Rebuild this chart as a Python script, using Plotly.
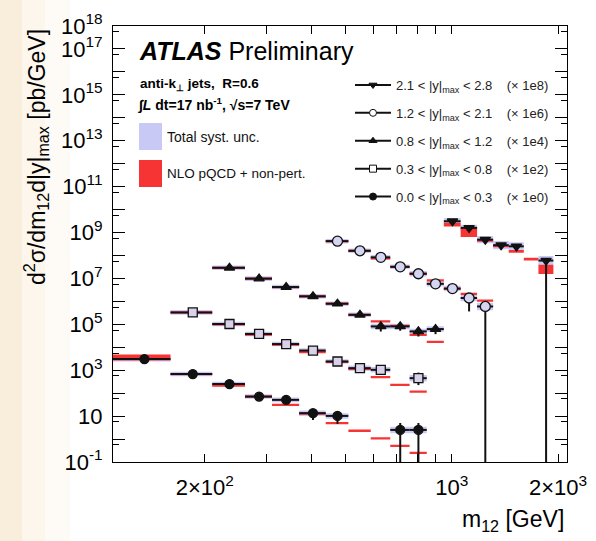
import plotly.graph_objects as go

# ---------------- data ----------------
edges = [110, 160, 210, 260, 310, 370, 440, 510, 590, 670, 760, 850, 950,
         1060, 1180, 1310, 1450, 1600, 1760, 1940, 2120]

series_names = ["0.0 < |y|<sub>max</sub> < 0.3", "0.3 < |y|<sub>max</sub> < 0.8",
                "0.8 < |y|<sub>max</sub> < 1.2", "1.2 < |y|<sub>max</sub> < 2.1",
                "2.1 < |y|<sub>max</sub> < 2.8"]
series_scale = ["(× 1e0)", "(× 1e2)", "(× 1e4)", "(× 1e6)", "(× 1e8)"]
series_first_bin = [0, 1, 2, 6, 12]

# measured (already multiplied by the scale factor)
data_y0 = [3050, 680, 250, 71, 51, 13.4, 10.2, None, None, 2.5, 2.5]
data_y1 = [3.3e5, 1.03e5, 3.8e4, 1.38e4, 7.2e3, 2.4e3, 1.23e3, 1.04e3, None, 450]
data_y2 = [2.9e7, 9.8e6, 4.2e6, 1.66e6, 7.9e5, 2.6e5, 8.1e4, 8.1e4, 4.9e4, 6.2e4]
data_y3 = [4.2e8, 1.6e8, 8.3e7, 3.2e7, 1.6e7, 5.8e6, 3.6e6, 1.4e6, 6.0e5]
data_y4 = [3.1e9, 1.6e9, 4.9e8, 2.8e8, 2.5e8, None, 6.0e7]

# statistical uncertainty (fraction of value)
stat_dn0 = [0.03, 0.03, 0.04, 0.05, 0.08, 0.5, 0.55, None, None, 1.0, 1.0]
stat_up0 = [0.03, 0.03, 0.04, 0.05, 0.08, 0.5, 0.55, None, None, 1.0, 1.0]
stat_dn1 = [0.02, 0.03, 0.03, 0.04, 0.05, 0.08, 0.12, 0.15, None, 0.5]
stat_up1 = [0.02, 0.03, 0.03, 0.04, 0.05, 0.08, 0.12, 0.15, None, 0.75]
stat_dn2 = [0.03, 0.04, 0.05, 0.06, 0.1, 0.2, 0.4, 0.35, 0.4, 0.4]
stat_up2 = [0.03, 0.04, 0.05, 0.06, 0.1, 0.2, 0.4, 0.35, 0.4, 0.4]
stat_dn3 = [0.02, 0.02, 0.03, 0.04, 0.06, 0.1, 0.15, 0.74, 1.0]
stat_up3 = [0.02, 0.02, 0.03, 0.04, 0.06, 0.1, 0.15, 0.3, 0.35]
stat_dn4 = [0.1, 0.15, 0.3, 0.35, 0.35, None, 1.0]
stat_up4 = [0.1, 0.15, 0.2, 0.25, 0.25, None, 0.3]

# total systematic uncertainty (half-height, decades)
syst0 = [0.1, 0.1, 0.1, 0.1, 0.1, 0.12, 0.12, None, None, 0.14, 0.14]
syst1 = [0.1, 0.1, 0.1, 0.1, 0.1, 0.1, 0.12, 0.12, None, 0.14]
syst2 = [0.1, 0.1, 0.1, 0.1, 0.1, 0.1, 0.12, 0.12, 0.12, 0.12]
syst3 = [0.1, 0.1, 0.1, 0.1, 0.12, 0.12, 0.12, 0.14, 0.16]
syst4 = [0.14, 0.14, 0.16, 0.18, 0.18, None, 0.2]

# NLO pQCD + non-pert. prediction (scaled) and its half-height (decades)
theo_y0 = [3600, 680, 220, 71, 31, 13, 4.9, 2.3, 1.08, 0.5, 0.25]
theo_u0 = [0.13, 0.05, 0.06, 0.05, 0.05, 0.05, 0.05, 0.05, 0.05, 0.05, 0.05]
theo_y1 = [3.3e5, 1.0e5, 3.6e4, 1.3e4, 6.2e3, 2.3e3, 1.15e3, 500, 230, 117]
theo_u1 = [0.05] * 10
theo_y2 = [2.9e7, 9.8e6, 4.2e6, 1.66e6, 7.9e5, 2.6e5, 1.35e5, 8.5e4, 3.5e4, 1.7e4]
theo_u2 = [0.05] * 10
theo_y3 = [4.2e8, 1.6e8, 7.5e7, 3.2e7, 1.6e7, 8.3e6, 3.6e6, 2.1e6, 1.07e6]
theo_u3 = [0.05] * 9
theo_y4 = [2.2e9, 1.0e9, 4.5e8, 2.6e8, 1.5e8, 7.0e7, 2.5e7]
theo_u4 = [0.08, 0.2, 0.06, 0.06, 0.06, 0.06, 0.2]

y_tick_exp = list(range(-1, 19))
y_tick_labels = {18: "10<sup>18</sup>", 17: "10<sup>17</sup>", 15: "10<sup>15</sup>",
                 13: "10<sup>13</sup>", 11: "10<sup>11</sup>", 9: "10<sup>9</sup>",
                 7: "10<sup>7</sup>", 5: "10<sup>5</sup>", 3: "10<sup>3</sup>",
                 1: "10", -1: "10<sup>-1</sup>"}
x_tick_vals = [200, 300, 400, 500, 600, 700, 800, 900, 1000, 2000]
x_tick_labels = {200: "2×10<sup>2</sup>", 1000: "10<sup>3</sup>", 2000: "2×10<sup>3</sup>"}

all_data = [data_y0, data_y1, data_y2, data_y3, data_y4]
all_dn = [stat_dn0, stat_dn1, stat_dn2, stat_dn3, stat_dn4]
all_up = [stat_up0, stat_up1, stat_up2, stat_up3, stat_up4]
all_syst = [syst0, syst1, syst2, syst3, syst4]
all_theo = [theo_y0, theo_y1, theo_y2, theo_y3, theo_y4]
all_theo_u = [theo_u0, theo_u1, theo_u2, theo_u3, theo_u4]

# ---------------- styles ----------------
FONT = "Liberation Sans, Arial, Helvetica, sans-serif"
RED = "#f73434"
LAV = "#c9c9f6"
BLK = "#111111"
symbols = ["circle", "square", "triangle-up", "circle", "triangle-down"]
m_sizes = [9, 9, 9, 10, 9]
m_fill = [BLK, "#d9d0ea", BLK, "#d4d5f2", BLK]
leg_fill = [BLK, "white", BLK, "white", BLK]


def boxes(first, vals, half):
    xs, ys = [], []
    for i, (v, h) in enumerate(zip(vals, half)):
        if v is None:
            continue
        lo, hi = edges[first + i], edges[first + i + 1]
        ylo, yhi = v * 10 ** (-h), v * 10 ** h
        xs += [lo, hi, hi, lo, lo, None]
        ys += [ylo, ylo, yhi, yhi, ylo, None]
    return xs, ys


fig = go.Figure()

# systematic bands
for k in range(5):
    xs, ys = boxes(series_first_bin[k], all_data[k], all_syst[k])
    fig.add_trace(go.Scatter(x=xs, y=ys, mode="lines", fill="toself", fillcolor=LAV,
                             line=dict(width=0), showlegend=False, hoverinfo="skip"))
# theory
for k in range(5):
    xs, ys = boxes(series_first_bin[k], all_theo[k], all_theo_u[k])
    fig.add_trace(go.Scatter(x=xs, y=ys, mode="lines", fill="toself", fillcolor=RED,
                             line=dict(width=0), showlegend=False, hoverinfo="skip"))
# data
for k in range(5):
    f = series_first_bin[k]
    cx, cy, ex_p, ex_m, ey_p, ey_m = [], [], [], [], [], []
    for i, v in enumerate(all_data[k]):
        if v is None:
            continue
        lo, hi = edges[f + i], edges[f + i + 1]
        c = 0.5 * (lo + hi)
        cx.append(c); cy.append(v)
        ex_p.append(hi - c); ex_m.append(c - lo)
        ey_p.append(v * all_up[k][i]); ey_m.append(v * all_dn[k][i])
    fig.add_trace(go.Scatter(
        x=cx, y=cy, mode="markers", showlegend=False,
        marker=dict(symbol=symbols[k], size=m_sizes[k], color=m_fill[k],
                    line=dict(color=BLK, width=1.3)),
        error_x=dict(type="data", symmetric=False, array=ex_p, arrayminus=ex_m,
                     thickness=2, width=0, color=BLK),
        error_y=dict(type="data", symmetric=False, array=ey_p, arrayminus=ey_m,
                     thickness=2, width=0, color=BLK)))

# legend entries (top to bottom: highest rapidity first)
for k in [4, 3, 2, 1, 0]:
    fig.add_trace(go.Scatter(
        x=[None], y=[None], mode="lines+markers", legendgroup=f"g{k}",
        name=series_names[k] + "\u00a0\u00a0\u00a0\u00a0" + series_scale[k],
        line=dict(color=BLK, width=2),
        marker=dict(symbol=symbols[k], size=7, color=leg_fill[k],
                    line=dict(color=BLK, width=1))))

# ---------------- layout ----------------
W, H = 596, 541
L, R, T, B = 113, 29, 26, 79
pw, ph = W - L - R, H - T - B


def px_x(p):
    return (p - L) / pw


def px_y(p):
    return 1 - (p - T) / ph


shapes = [
    dict(type="rect", xref="paper", yref="paper", x0=px_x(0), x1=px_x(22),
         y0=px_y(H), y1=px_y(0), fillcolor="#f8eedb", line=dict(width=0), layer="below"),
    dict(type="rect", xref="paper", yref="paper", x0=px_x(22), x1=px_x(45),
         y0=px_y(H), y1=px_y(0), fillcolor="#fcf6ec", line=dict(width=0), layer="below"),
    dict(type="rect", xref="paper", yref="paper", x0=px_x(45), x1=px_x(70),
         y0=px_y(H), y1=px_y(0), fillcolor="#fefbf6", line=dict(width=0), layer="below"),
    # legend swatches
    dict(type="rect", xref="paper", yref="paper", x0=px_x(139), x1=px_x(162),
         y0=px_y(150), y1=px_y(123), fillcolor=LAV, line=dict(width=0)),
    dict(type="rect", xref="paper", yref="paper", x0=px_x(139), x1=px_x(162),
         y0=px_y(187), y1=px_y(160), fillcolor=RED, line=dict(width=0)),
]

annotations = [
    dict(text="<b><i>ATLAS</i></b> Preliminary", x=px_x(137), y=px_y(51), xref="paper",
         yref="paper", xanchor="left", yanchor="middle", showarrow=False,
         font=dict(family=FONT, size=25, color="black")),
    dict(text="<b>anti-k<sub>⊥</sub> jets,  R=0.6</b>", x=px_x(138), y=px_y(84),
         xref="paper", yref="paper", xanchor="left", yanchor="middle", showarrow=False,
         font=dict(family=FONT, size=13.5, color="black")),
    dict(text="<b>∫<i>L</i> dt=17 nb<sup>-1</sup>, √s=7 TeV</b>", x=px_x(136), y=px_y(104),
         xref="paper", yref="paper", xanchor="left", yanchor="middle", showarrow=False,
         font=dict(family=FONT, size=14, color="black")),
    dict(text="Total syst. unc.", x=px_x(165), y=px_y(137), xref="paper", yref="paper",
         xanchor="left", yanchor="middle", showarrow=False,
         font=dict(family=FONT, size=14, color="#111")),
    dict(text="NLO pQCD + non-pert.", x=px_x(165), y=px_y(174), xref="paper", yref="paper",
         xanchor="left", yanchor="middle", showarrow=False,
         font=dict(family=FONT, size=13.5, color="#111")),
    dict(text="d<sup>2</sup>σ/dm<sub>12</sub>d|y|<sub>max</sub> [pb/GeV]", x=px_x(36),
         y=px_y(27), xref="paper", yref="paper", xanchor="center", yanchor="top",
         textangle=-90, showarrow=False, font=dict(family=FONT, size=23, color="black")),
    dict(text="m<sub>12</sub> [GeV]", x=px_x(566), y=px_y(520), xref="paper", yref="paper",
         xanchor="right", yanchor="middle", showarrow=False,
         font=dict(family=FONT, size=23, color="black")),
]

fig.update_layout(
    width=W, height=H, margin=dict(l=L, r=R, t=T, b=B, autoexpand=False),
    paper_bgcolor="white", plot_bgcolor="white",
    font=dict(family=FONT, color="black"),
    shapes=shapes, annotations=annotations,
    legend=dict(x=px_x(350), y=px_y(70), xanchor="left", yanchor="top",
                bgcolor="rgba(0,0,0,0)", font=dict(family=FONT, size=13, color="#222"),
                traceorder="grouped", tracegroupgap=8, itemwidth=36),
    xaxis=dict(type="log", range=[2.04139, 3.32634], showgrid=False, zeroline=False,
               automargin=False,
               showline=True, linecolor="black", linewidth=1, mirror="ticks",
               ticks="inside", ticklen=8, tickcolor="black",
               tickmode="array", tickvals=x_tick_vals,
               ticktext=[x_tick_labels.get(v, "") for v in x_tick_vals],
               tickfont=dict(family=FONT, size=22), ticklabelstandoff=6),
    yaxis=dict(type="log", range=[-1, 18], showgrid=False, zeroline=False,
               automargin=False,
               showline=True, linecolor="black", linewidth=1, mirror="ticks",
               ticks="inside", ticklen=12, tickcolor="black",
               tickmode="array", tickvals=[10 ** e for e in y_tick_exp],
               ticktext=[y_tick_labels.get(e, "") for e in y_tick_exp],
               tickfont=dict(family=FONT, size=22), ticklabelstandoff=5,
               minor=dict(ticks="inside", ticklen=6, tickcolor="black", tickmode="array",
                          tickvals=[0.56 * 10 ** e for e in y_tick_exp], showgrid=False)),
)

fig.write_html("out.html", config={"displayModeBar": False},
               post_script="document.body.style.margin='0';document.body.style.padding='0';")
